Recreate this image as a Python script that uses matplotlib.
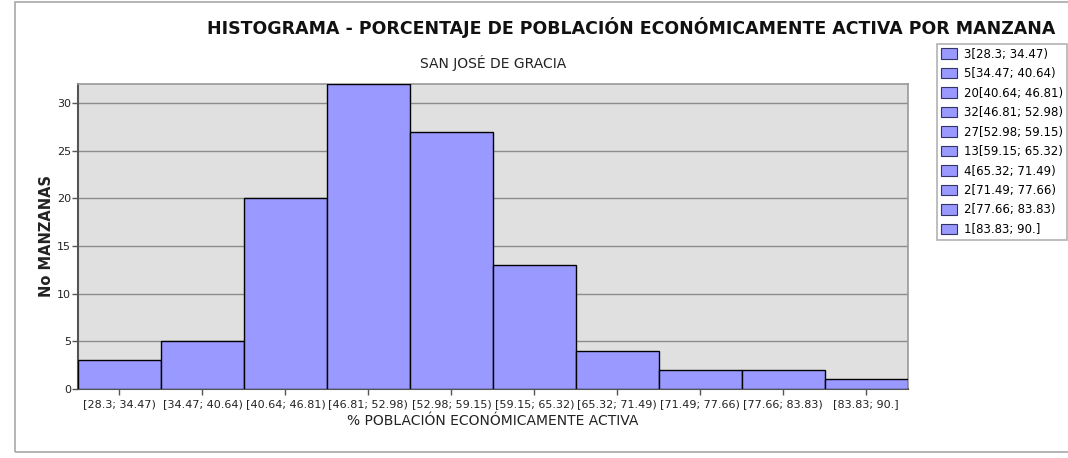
import matplotlib
matplotlib.use("Agg")
import matplotlib.pyplot as plt
from matplotlib.patches import Rectangle, Patch

# bins of % economically active population, counts of blocks per bin
intervalos = ["[28.3; 34.47)", "[34.47; 40.64)", "[40.64; 46.81)", "[46.81; 52.98)",
              "[52.98; 59.15)", "[59.15; 65.32)", "[65.32; 71.49)", "[71.49; 77.66)",
              "[77.66; 83.83)", "[83.83; 90.]"]
manzanas = [3, 5, 20, 32, 27, 13, 4, 2, 2, 1]
yticks = [0, 5, 10, 15, 20, 25, 30]

plt.rcParams['font.family'] = ['DejaVu Sans']

fig = plt.figure(figsize=(10.68, 4.58), dpi=100)
ax = fig.add_axes([0.073, 0.1507, 0.777, 0.666])

# outer frame
fig.patches.append(Rectangle((15 / 1068, 6 / 458), 1.0, 450 / 458, transform=fig.transFigure,
                             fill=False, edgecolor="#a8a8a8", linewidth=1.2))

ax.set_facecolor("#e0e0e0")
x = range(len(manzanas))
ax.bar(x, manzanas, width=1.0, color="#9999ff", edgecolor="black", linewidth=1, zorder=3)
ax.set_xlim(-0.5, len(manzanas) - 0.5)
ax.set_ylim(0, 32)
ax.set_yticks(yticks)
ax.set_xticks(list(x))
ax.set_xticklabels(intervalos, fontsize=8, color="#222222")
ax.tick_params(axis="y", labelsize=8, length=4, width=1, colors="#555555", labelcolor="#222222", pad=1)
ax.tick_params(axis="x", length=4, width=1, colors="#555555", labelcolor="#222222", pad=3)
ax.yaxis.grid(True, color="#8c8c8c", linewidth=1, zorder=1)
for s in ["left", "bottom"]:
    ax.spines[s].set_color("#555555")
    ax.spines[s].set_linewidth(1.5)
for s in ["top", "right"]:
    ax.spines[s].set_color("#999999")
    ax.spines[s].set_linewidth(1.2)

ax.set_xlabel("% POBLACIÓN ECONÓMICAMENTE ACTIVA", fontsize=10, color="#222222", labelpad=4)
ax.set_ylabel("No MANZANAS", fontsize=10.5, fontweight="bold", color="#222222", labelpad=2)

fig.text(631 / 1068, 1 - 27 / 458, "HISTOGRAMA - PORCENTAJE DE POBLACIÓN ECONÓMICAMENTE ACTIVA POR MANZANA",
         ha="center", va="center", fontsize=12.5, fontweight="bold", color="#111111")
fig.text(493 / 1068, 1 - 63 / 458, "SAN JOSÉ DE GRACIA", ha="center", va="center",
         fontsize=10, color="#222222")

handles = [Patch(facecolor="#9999ff", edgecolor="#333366", linewidth=0.8) for _ in manzanas]
labels = [f"{c}{iv}" for c, iv in zip(manzanas, intervalos)]
leg = fig.legend(handles, labels, loc="upper left", bbox_to_anchor=(937 / 1068, 1 - 44 / 458),
                 fontsize=8.5, frameon=True, fancybox=False, handlelength=1.4, handleheight=1.0,
                 handletextpad=0.6, labelspacing=0.55, borderpad=0.3, borderaxespad=0)
leg.get_frame().set_edgecolor("#a0a0a0")
leg.get_frame().set_linewidth(1.2)

fig.savefig("out.png", dpi=100)
